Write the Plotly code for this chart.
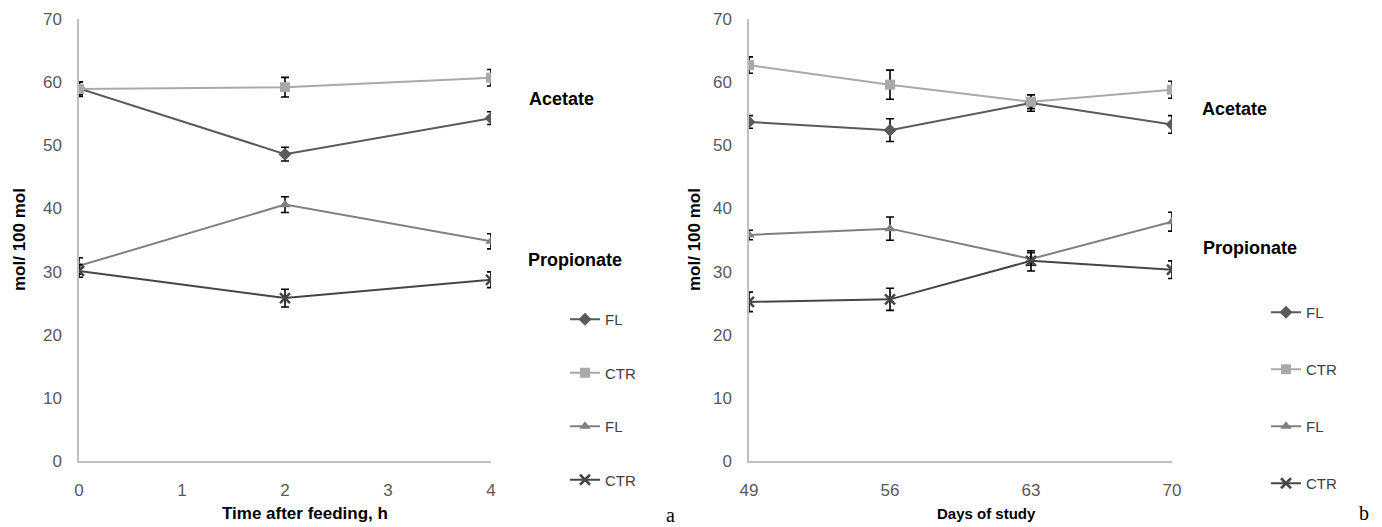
import plotly.graph_objects as go

# ---- Data: panel a (time after feeding, h) ----
hours = [0, 2, 4]
a_fl_acetate = [59.0, 48.6, 54.3]
a_fl_acetate_err = [1.0, 1.1, 1.0]
a_ctr_acetate = [58.9, 59.2, 60.7]
a_ctr_acetate_err = [1.15, 1.55, 1.3]
a_fl_propionate = [30.9, 40.6, 34.8]
a_fl_propionate_err = [1.3, 1.25, 1.2]
a_ctr_propionate = [30.1, 25.8, 28.7]
a_ctr_propionate_err = [1.0, 1.4, 1.25]

# ---- Data: panel b (days of study) ----
days = [49, 56, 63, 70]
b_fl_acetate = [53.7, 52.4, 56.7, 53.3]
b_fl_acetate_err = [1.0, 1.8, 1.3, 1.4]
b_ctr_acetate = [62.7, 59.6, 56.9, 58.8]
b_ctr_acetate_err = [1.3, 2.3, 1.1, 1.35]
b_fl_propionate = [35.8, 36.8, 32.0, 37.9]
b_fl_propionate_err = [0.75, 1.85, 1.0, 1.5]
b_ctr_propionate = [25.2, 25.6, 31.7, 30.3]
b_ctr_propionate_err = [1.55, 1.75, 1.6, 1.4]

y_ticks = [0, 10, 20, 30, 40, 50, 60, 70]
hour_ticks = [0, 1, 2, 3, 4]

FONT = "Liberation Sans, Arial, sans-serif"
C_FL_AC = "#5a5a5a"
C_CTR_AC = "#a9a9a9"
C_FL_PR = "#808080"
C_CTR_PR = "#454545"

series_style = [
    ("FL", C_FL_AC, "diamond", 10),
    ("CTR", C_CTR_AC, "square", 10),
    ("FL", C_FL_PR, "triangle-up", 10),
    ("CTR", C_CTR_PR, "x-thin-open", 10),
]

fig = go.Figure()

def add_panel(x, ys, errs, xaxis, yaxis, legend, tag):
    for i, ((name, color, sym, size), y, e) in enumerate(zip(series_style, ys, errs)):
        marker = dict(symbol=sym, size=size, color=color)
        if sym.startswith("x"):
            marker["line"] = dict(color=color, width=2.5)
        fig.add_trace(go.Scatter(
            x=x, y=y, name=name, mode="lines+markers",
            line=dict(color=color, width=2),
            marker=marker,
            error_y=dict(type="data", array=e, color="black", thickness=1.6, width=4),
            xaxis=xaxis, yaxis=yaxis,
            legend=legend, legendgroup=f"{tag}{i}",
        ))

add_panel(hours, [a_fl_acetate, a_ctr_acetate, a_fl_propionate, a_ctr_propionate],
          [a_fl_acetate_err, a_ctr_acetate_err, a_fl_propionate_err, a_ctr_propionate_err],
          "x", "y", "legend", "a")
add_panel(days, [b_fl_acetate, b_ctr_acetate, b_fl_propionate, b_ctr_propionate],
          [b_fl_acetate_err, b_ctr_acetate_err, b_fl_propionate_err, b_ctr_propionate_err],
          "x2", "y2", "legend2", "b")

W, H = 1382, 527

def fx(px):
    return px / W

def fy(py):
    return 1 - py / H

ydom = [fy(461), fy(19)]
tickfont = dict(family=FONT, size=17, color="#595959")
axis_common = dict(showgrid=False, zeroline=False, showline=True, linecolor="#bfbfbf",
                   linewidth=1.5, ticks="outside", tickcolor="rgba(0,0,0,0)",
                   tickfont=tickfont, automargin=False, fixedrange=True)

legend_common = dict(font=dict(family=FONT, size=15, color="#404040"),
                     bgcolor="rgba(0,0,0,0)", itemwidth=30,
                     yanchor="top", xanchor="left")

fig.update_layout(
    template="none",
    width=W, height=H, margin=dict(l=0, r=0, t=0, b=0, autoexpand=False),
    plot_bgcolor="white", paper_bgcolor="white",
    showlegend=True,
    xaxis=dict(domain=[fx(79), fx(491)], range=[0, 4], tickvals=hour_ticks,
               ticklen=13, anchor="y", **axis_common),
    yaxis=dict(domain=ydom, range=[0, 70], tickvals=y_ticks, ticklen=12, anchor="x",
               **axis_common),
    xaxis2=dict(domain=[fx(749), fx(1172)], range=[49, 70], tickvals=days,
                ticklen=13, anchor="y2", **axis_common),
    yaxis2=dict(domain=ydom, range=[0, 70], tickvals=y_ticks, ticklen=12, anchor="x2",
                **axis_common),
    legend=dict(x=fx(565), y=fy(303), tracegroupgap=31, **legend_common),
    legend2=dict(x=fx(1266), y=fy(296), tracegroupgap=34.5, **legend_common),
)

def ann(text, x, y, size=16, bold=True, angle=0, family=FONT, color="black"):
    fig.add_annotation(text=f"<b>{text}</b>" if bold else text, x=fx(x), y=fy(y),
                       xref="paper", yref="paper", showarrow=False, textangle=angle,
                       font=dict(family=family, size=size, color=color),
                       xanchor="center", yanchor="middle")

ann("Acetate", 561, 99, size=18)
ann("Propionate", 575, 260, size=18)
ann("Acetate", 1234, 109, size=18)
ann("Propionate", 1250, 248, size=18)
ann("mol/ 100 mol", 20, 240, size=17, angle=-90)
ann("mol/ 100 mol", 694, 239, size=17, angle=-90)
ann("Time after feeding, h", 305, 513, size=17)
ann("Days of study", 986, 513, size=15)
ann("a", 670, 515, size=20, bold=False, family="Liberation Serif, Times New Roman, serif")
ann("b", 1364, 513, size=20, bold=False, family="Liberation Serif, Times New Roman, serif")

fig.write_html("out.html", config={"displayModeBar": False},
               post_script="document.body.style.margin='0';document.body.style.overflow='hidden';")
